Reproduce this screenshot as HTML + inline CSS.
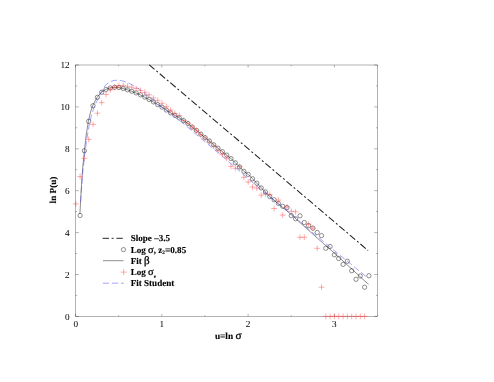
<!DOCTYPE html>
<html><head><meta charset="utf-8"><title>plot</title>
<style>
html,body{margin:0;padding:0;background:#fff;}
body{width:494px;height:382px;overflow:hidden;font-family:"Liberation Serif",serif;}
svg{display:block;filter:blur(0.45px)}
text{font-family:"Liberation Serif",serif;fill:#000;stroke:#000;stroke-width:0.12px;text-rendering:geometricPrecision}
.tk{font-size:9.2px;stroke-width:0.03px}
.b{font-weight:bold}
</style></head><body>
<svg width="494" height="382" viewBox="0 0 494 382">
<rect width="494" height="382" fill="#fff"/>

<rect x="75.6" y="65.0" width="301.9" height="251.4" fill="none" stroke="#000" stroke-width="0.3"/>
<path d="M75.5,316.4 v-2.6 M75.5,65.0 v2.6 M118.7,316.4 v-1.3 M118.7,65.0 v1.3 M161.8,316.4 v-2.6 M161.8,65.0 v2.6 M204.9,316.4 v-1.3 M204.9,65.0 v1.3 M248.1,316.4 v-2.6 M248.1,65.0 v2.6 M291.2,316.4 v-1.3 M291.2,65.0 v1.3 M334.4,316.4 v-2.6 M334.4,65.0 v2.6 M377.6,316.4 v-1.3 M377.6,65.0 v1.3 M75.6,316.4 h3.3 M377.5,316.4 h-3.3 M75.6,295.4 h1.6 M377.5,295.4 h-1.6 M75.6,274.5 h3.3 M377.5,274.5 h-3.3 M75.6,253.5 h1.6 M377.5,253.5 h-1.6 M75.6,232.6 h3.3 M377.5,232.6 h-3.3 M75.6,211.6 h1.6 M377.5,211.6 h-1.6 M75.6,190.7 h3.3 M377.5,190.7 h-3.3 M75.6,169.7 h1.6 M377.5,169.7 h-1.6 M75.6,148.8 h3.3 M377.5,148.8 h-3.3 M75.6,127.8 h1.6 M377.5,127.8 h-1.6 M75.6,106.9 h3.3 M377.5,106.9 h-3.3 M75.6,85.9 h1.6 M377.5,85.9 h-1.6 M75.6,65.0 h3.3 M377.5,65.0 h-3.3" stroke="#000" stroke-width="0.3" fill="none"/>
<text class="tk" x="69.6" y="320.3" text-anchor="end">0</text>
<text class="tk" x="69.6" y="277.9" text-anchor="end">2</text>
<text class="tk" x="69.6" y="235.5" text-anchor="end">4</text>
<text class="tk" x="69.6" y="193.6" text-anchor="end">6</text>
<text class="tk" x="69.6" y="151.7" text-anchor="end">8</text>
<text class="tk" x="69.6" y="109.8" text-anchor="end">10</text>
<text class="tk" x="69.6" y="67.9" text-anchor="end">12</text>
<text class="tk" x="75.8" y="327.2" text-anchor="middle">0</text>
<text class="tk" x="161.8" y="327.2" text-anchor="middle">1</text>
<text class="tk" x="248.1" y="327.2" text-anchor="middle">2</text>
<text class="tk" x="334.4" y="327.2" text-anchor="middle">3</text>
<text class="b" font-size="9.3" x="228.2" y="339.4" text-anchor="middle">u=ln <tspan font-size="11.3" font-weight="normal" stroke-width="0.3">σ</tspan></text>
<text class="b" font-size="9.2" transform="translate(55.6,190) rotate(-90)" text-anchor="middle">ln P(u)</text>
<path d="M149.2,64.8 L368.1,250.5" stroke="#1c1c1c" stroke-width="1.02" fill="none" stroke-dasharray="7.0,2.42,2.0,2.43"/>
<circle cx="80.1" cy="215.5" r="2.15" fill="none" stroke="#222" stroke-width="0.5"/>
<circle cx="84.4" cy="150.7" r="2.15" fill="none" stroke="#222" stroke-width="0.5"/>
<circle cx="88.7" cy="121.3" r="2.15" fill="none" stroke="#222" stroke-width="0.5"/>
<circle cx="93.0" cy="105.7" r="2.15" fill="none" stroke="#222" stroke-width="0.5"/>
<circle cx="97.4" cy="97.3" r="2.15" fill="none" stroke="#222" stroke-width="0.5"/>
<circle cx="101.7" cy="92.2" r="2.15" fill="none" stroke="#222" stroke-width="0.5"/>
<circle cx="106.0" cy="89.4" r="2.15" fill="none" stroke="#222" stroke-width="0.5"/>
<circle cx="110.3" cy="87.9" r="2.15" fill="none" stroke="#222" stroke-width="0.5"/>
<circle cx="114.6" cy="87.3" r="2.15" fill="none" stroke="#222" stroke-width="0.5"/>
<circle cx="118.9" cy="87.5" r="2.15" fill="none" stroke="#222" stroke-width="0.5"/>
<circle cx="123.2" cy="88.5" r="2.15" fill="none" stroke="#222" stroke-width="0.5"/>
<circle cx="127.5" cy="89.8" r="2.15" fill="none" stroke="#222" stroke-width="0.5"/>
<circle cx="131.8" cy="91.3" r="2.15" fill="none" stroke="#222" stroke-width="0.5"/>
<circle cx="136.1" cy="92.9" r="2.15" fill="none" stroke="#222" stroke-width="0.5"/>
<circle cx="140.5" cy="94.8" r="2.15" fill="none" stroke="#222" stroke-width="0.5"/>
<circle cx="144.8" cy="97.1" r="2.15" fill="none" stroke="#222" stroke-width="0.5"/>
<circle cx="149.1" cy="99.5" r="2.15" fill="none" stroke="#222" stroke-width="0.5"/>
<circle cx="153.4" cy="101.9" r="2.15" fill="none" stroke="#222" stroke-width="0.5"/>
<circle cx="157.7" cy="104.6" r="2.15" fill="none" stroke="#222" stroke-width="0.5"/>
<circle cx="162.0" cy="107.1" r="2.15" fill="none" stroke="#222" stroke-width="0.5"/>
<circle cx="166.3" cy="110.0" r="2.15" fill="none" stroke="#222" stroke-width="0.5"/>
<circle cx="170.6" cy="112.9" r="2.15" fill="none" stroke="#222" stroke-width="0.5"/>
<circle cx="174.9" cy="115.4" r="2.15" fill="none" stroke="#222" stroke-width="0.5"/>
<circle cx="179.3" cy="117.9" r="2.15" fill="none" stroke="#222" stroke-width="0.5"/>
<circle cx="183.6" cy="120.6" r="2.15" fill="none" stroke="#222" stroke-width="0.5"/>
<circle cx="187.9" cy="123.5" r="2.15" fill="none" stroke="#222" stroke-width="0.5"/>
<circle cx="192.2" cy="127.1" r="2.15" fill="none" stroke="#222" stroke-width="0.5"/>
<circle cx="196.5" cy="130.4" r="2.15" fill="none" stroke="#222" stroke-width="0.5"/>
<circle cx="200.8" cy="134.2" r="2.15" fill="none" stroke="#222" stroke-width="0.5"/>
<circle cx="205.1" cy="137.6" r="2.15" fill="none" stroke="#222" stroke-width="0.5"/>
<circle cx="209.4" cy="141.0" r="2.15" fill="none" stroke="#222" stroke-width="0.5"/>
<circle cx="213.7" cy="144.8" r="2.15" fill="none" stroke="#222" stroke-width="0.5"/>
<circle cx="218.0" cy="148.2" r="2.15" fill="none" stroke="#222" stroke-width="0.5"/>
<circle cx="222.4" cy="151.7" r="2.15" fill="none" stroke="#222" stroke-width="0.5"/>
<circle cx="226.7" cy="155.1" r="2.15" fill="none" stroke="#222" stroke-width="0.5"/>
<circle cx="231.0" cy="158.6" r="2.15" fill="none" stroke="#222" stroke-width="0.5"/>
<circle cx="235.3" cy="162.8" r="2.15" fill="none" stroke="#222" stroke-width="0.5"/>
<circle cx="239.6" cy="167.0" r="2.15" fill="none" stroke="#222" stroke-width="0.5"/>
<circle cx="243.9" cy="171.3" r="2.15" fill="none" stroke="#222" stroke-width="0.5"/>
<circle cx="248.2" cy="174.4" r="2.15" fill="none" stroke="#222" stroke-width="0.5"/>
<circle cx="252.5" cy="178.8" r="2.15" fill="none" stroke="#222" stroke-width="0.5"/>
<circle cx="256.8" cy="183.2" r="2.15" fill="none" stroke="#222" stroke-width="0.5"/>
<circle cx="261.2" cy="187.9" r="2.15" fill="none" stroke="#222" stroke-width="0.5"/>
<circle cx="265.5" cy="192.0" r="2.15" fill="none" stroke="#222" stroke-width="0.5"/>
<circle cx="269.8" cy="196.6" r="2.15" fill="none" stroke="#222" stroke-width="0.5"/>
<circle cx="274.1" cy="199.8" r="2.15" fill="none" stroke="#222" stroke-width="0.5"/>
<circle cx="278.4" cy="203.4" r="2.15" fill="none" stroke="#222" stroke-width="0.5"/>
<circle cx="282.7" cy="206.3" r="2.15" fill="none" stroke="#222" stroke-width="0.5"/>
<circle cx="287.0" cy="207.6" r="2.15" fill="none" stroke="#222" stroke-width="0.5"/>
<circle cx="291.3" cy="215.6" r="2.15" fill="none" stroke="#222" stroke-width="0.5"/>
<circle cx="295.6" cy="218.8" r="2.15" fill="none" stroke="#222" stroke-width="0.5"/>
<circle cx="300.0" cy="215.8" r="2.15" fill="none" stroke="#222" stroke-width="0.5"/>
<circle cx="304.3" cy="222.5" r="2.15" fill="none" stroke="#222" stroke-width="0.5"/>
<circle cx="308.6" cy="225.6" r="2.15" fill="none" stroke="#222" stroke-width="0.5"/>
<circle cx="312.9" cy="228.2" r="2.15" fill="none" stroke="#222" stroke-width="0.5"/>
<circle cx="317.2" cy="232.5" r="2.15" fill="none" stroke="#222" stroke-width="0.5"/>
<circle cx="321.5" cy="235.6" r="2.15" fill="none" stroke="#222" stroke-width="0.5"/>
<circle cx="325.8" cy="248.2" r="2.15" fill="none" stroke="#222" stroke-width="0.5"/>
<circle cx="330.1" cy="246.5" r="2.15" fill="none" stroke="#222" stroke-width="0.5"/>
<circle cx="334.4" cy="254.8" r="2.15" fill="none" stroke="#222" stroke-width="0.5"/>
<circle cx="338.7" cy="258.5" r="2.15" fill="none" stroke="#222" stroke-width="0.5"/>
<circle cx="343.1" cy="264.4" r="2.15" fill="none" stroke="#222" stroke-width="0.5"/>
<circle cx="347.4" cy="261.2" r="2.15" fill="none" stroke="#222" stroke-width="0.5"/>
<circle cx="351.7" cy="270.7" r="2.15" fill="none" stroke="#222" stroke-width="0.5"/>
<circle cx="356.0" cy="279.3" r="2.15" fill="none" stroke="#222" stroke-width="0.5"/>
<circle cx="360.3" cy="276.0" r="2.15" fill="none" stroke="#222" stroke-width="0.5"/>
<circle cx="364.6" cy="287.2" r="2.15" fill="none" stroke="#222" stroke-width="0.5"/>
<circle cx="368.9" cy="275.7" r="2.15" fill="none" stroke="#222" stroke-width="0.5"/>
<path d="M79.9,214.0 L80.4,205.0 L81.2,190.0 L82.5,170.0 L84.4,150.7 L86.2,135.0 L88.4,121.3 L90.4,112.5 L92.7,105.7 L97.1,97.3 L101.4,92.2 L105.7,89.4 L110.0,87.9 L114.3,87.3 L118.6,87.5 L123.0,88.5 L127.3,89.8 L131.6,91.3 L135.9,92.9 L140.2,94.8 L144.5,97.1 L148.9,99.5 L153.2,101.9 L157.5,104.6 L162.0,107.1 L166.3,110.0 L170.6,112.9 L174.9,115.4 L179.3,117.9 L183.6,120.6 L187.9,123.5 L192.2,127.1 L196.5,130.4 L200.8,134.2 L205.1,137.6 L209.4,141.0 L213.7,144.8 L218.0,148.2 L222.4,151.7 L226.7,155.1 L231.0,158.6 L235.3,162.8 L239.6,167.0 L243.9,171.3 L248.2,174.4 L252.5,178.8 L256.8,183.2 L261.2,187.9 L265.5,192.0 L269.8,196.6 L290.0,213.6 L320.0,240.5 L333.9,252.7 L367.0,283.0 L368.6,284.3" stroke="#000" stroke-width="0.45" fill="none" stroke-linejoin="round"/>
<path d="M72.9,203.9 h5.8 M75.8,201.0 v5.8 M77.2,176.6 h5.8 M80.1,173.7 v5.8 M81.5,158.3 h5.8 M84.4,155.4 v5.8 M85.8,139.4 h5.8 M88.7,136.5 v5.8 M90.1,124.4 h5.8 M93.0,121.5 v5.8 M94.5,113.2 h5.8 M97.4,110.3 v5.8 M98.8,102.6 h5.8 M101.7,99.7 v5.8 M103.1,94.4 h5.8 M106.0,91.5 v5.8 M107.4,89.8 h5.8 M110.3,86.9 v5.8 M111.7,87.3 h5.8 M114.6,84.4 v5.8 M116.0,85.8 h5.8 M118.9,82.9 v5.8 M120.3,85.4 h5.8 M123.2,82.5 v5.8 M124.6,86.3 h5.8 M127.5,83.4 v5.8 M128.9,87.3 h5.8 M131.8,84.4 v5.8 M133.2,88.5 h5.8 M136.1,85.6 v5.8 M137.6,90.4 h5.8 M140.5,87.5 v5.8 M141.9,92.3 h5.8 M144.8,89.4 v5.8 M146.2,94.8 h5.8 M149.1,91.9 v5.8 M150.5,98.0 h5.8 M153.4,95.1 v5.8 M154.8,100.4 h5.8 M157.7,97.5 v5.8 M159.1,103.3 h5.8 M162.0,100.4 v5.8 M163.4,106.6 h5.8 M166.3,103.7 v5.8 M167.7,110.0 h5.8 M170.6,107.1 v5.8 M172.0,113.3 h5.8 M174.9,110.4 v5.8 M176.4,115.5 h5.8 M179.3,112.6 v5.8 M180.7,120.5 h5.8 M183.6,117.6 v5.8 M185.0,123.3 h5.8 M187.9,120.4 v5.8 M189.3,127.0 h5.8 M192.2,124.1 v5.8 M193.6,130.6 h5.8 M196.5,127.7 v5.8 M197.9,134.5 h5.8 M200.8,131.6 v5.8 M202.2,138.0 h5.8 M205.1,135.1 v5.8 M206.5,142.0 h5.8 M209.4,139.1 v5.8 M210.8,146.0 h5.8 M213.7,143.1 v5.8 M215.1,150.7 h5.8 M218.0,147.8 v5.8 M219.5,154.5 h5.8 M222.4,151.6 v5.8 M223.8,158.2 h5.8 M226.7,155.3 v5.8 M228.1,166.4 h5.8 M231.0,163.5 v5.8 M232.4,168.3 h5.8 M235.3,165.4 v5.8 M236.7,166.5 h5.8 M239.6,163.6 v5.8 M241.0,177.3 h5.8 M243.9,174.4 v5.8 M245.3,182.0 h5.8 M248.2,179.1 v5.8 M249.6,187.0 h5.8 M252.5,184.1 v5.8 M253.9,188.2 h5.8 M256.8,185.3 v5.8 M258.3,195.1 h5.8 M261.2,192.2 v5.8 M262.6,193.8 h5.8 M265.5,190.9 v5.8 M266.9,194.4 h5.8 M269.8,191.5 v5.8 M271.2,208.5 h5.8 M274.1,205.6 v5.8 M275.5,200.1 h5.8 M278.4,197.2 v5.8 M279.8,215.1 h5.8 M282.7,212.2 v5.8 M284.1,207.0 h5.8 M287.0,204.1 v5.8 M288.4,211.3 h5.8 M291.3,208.4 v5.8 M292.7,211.8 h5.8 M295.6,208.9 v5.8 M297.1,237.3 h5.8 M300.0,234.4 v5.8 M301.4,237.3 h5.8 M304.3,234.4 v5.8 M305.7,224.2 h5.8 M308.6,221.3 v5.8 M310.0,228.2 h5.8 M312.9,225.3 v5.8 M314.3,248.3 h5.8 M317.2,245.4 v5.8 M318.6,287.2 h5.8 M321.5,284.3 v5.8 M322.9,316.4 h5.8 M325.8,313.5 v5.8 M327.2,316.4 h5.8 M330.1,313.5 v5.8 M331.5,316.4 h5.8 M334.4,313.5 v5.8 M335.8,316.4 h5.8 M338.7,313.5 v5.8 M340.2,316.4 h5.8 M343.1,313.5 v5.8 M344.5,316.4 h5.8 M347.4,313.5 v5.8 M348.8,316.4 h5.8 M351.7,313.5 v5.8 M353.1,316.4 h5.8 M356.0,313.5 v5.8 M357.4,316.4 h5.8 M360.3,313.5 v5.8 M361.7,316.4 h5.8 M364.6,313.5 v5.8" stroke="#ff3030" stroke-width="0.4" fill="none"/>
<path d="M80.6,201.9 L81.4,190.0 L82.8,172.0 L84.8,154.0 L86.8,139.0 L89.0,126.0 L91.5,115.0 L94.0,107.5 L96.6,101.6 L100.7,93.3 L103.7,87.4 L106.6,84.0 L110.8,81.5 L114.1,80.4 L119.1,80.1 L123.9,81.3 L127.2,82.4 L132.2,84.9 L135.6,87.0 L139.8,89.5 L143.1,92.0 L146.5,94.5 L151.5,98.3 L155.0,101.4 L159.2,105.0 L163.8,108.5 L168.0,111.7 L172.6,115.4 L177.6,119.2 L181.8,122.3 L185.9,125.8 L191.7,130.6 L195.9,134.2 L200.1,137.6 L207.5,143.8 L212.5,148.0 L218.8,153.0 L225.1,158.5 L230.1,163.0 L236.4,168.3 L241.4,172.7 L247.5,178.2 L253.8,183.4 L260.1,188.9 L265.7,193.5 L271.4,198.3 L277.5,203.2 L285.1,209.0 L292.0,214.5 L298.3,220.1 L308.8,229.5 L321.4,239.8 L332.7,249.3 L368.3,278.3" stroke="#4848ff" stroke-width="0.5" fill="none" stroke-dasharray="6.2,2.9" stroke-linejoin="round"/>
<path d="M102.6,238.3 H123.1" stroke="#1c1c1c" stroke-width="0.95" stroke-dasharray="6.4,2.6,2,2.8"/>
<circle cx="123.5" cy="249.6" r="2.1" fill="none" stroke="#222" stroke-width="0.5"/>
<path d="M103,260.7 H123.5" stroke="#000" stroke-width="0.45"/>
<path d="M120.7,272.1 h6 M123.7,269.1 v6" stroke="#ff3030" stroke-width="0.4"/>
<path d="M102.85,283.2 H123.9" stroke="#4848ff" stroke-width="0.5" stroke-dasharray="6.2,2.9"/>
<text class="b" font-size="9.05" x="130.75" y="241.2">Slope –3.5</text>
<text class="b" font-size="9.05" x="130.75" y="252.5">Log <tspan font-size="10.5" font-weight="normal" stroke-width="0.3">σ</tspan>, z<tspan font-size="5.2" dy="1.5">2</tspan><tspan dy="-1.5" font-size="9.5">=</tspan>0.85</text>
<text class="b" font-size="9.05" x="130.75" y="263.6">Fit <tspan font-size="11" font-weight="normal" stroke-width="0.3">β</tspan></text>
<text class="b" font-size="9.05" x="130.75" y="275.0">Log <tspan font-size="10.5" font-weight="normal" stroke-width="0.3">σ</tspan><tspan font-size="5.4" dy="2.5">e</tspan></text>
<text class="b" font-size="9.05" x="130.75" y="286.1">Fit Student</text>
</svg></body></html>
